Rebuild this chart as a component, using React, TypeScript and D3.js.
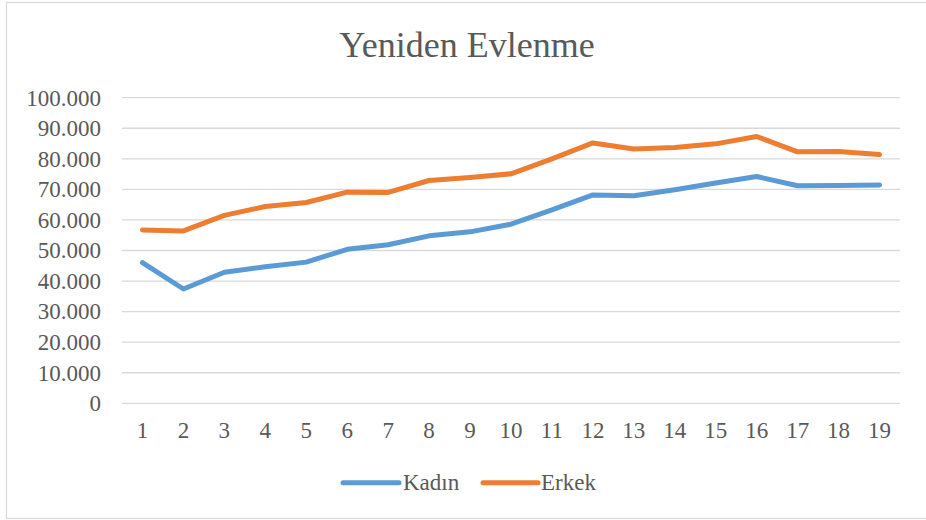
import React from 'react';
import * as d3 from 'd3';

const categories = ['1','2','3','4','5','6','7','8','9','10','11','12','13','14','15','16','17','18','19'];
const kadin = [46000, 37400, 42900, 44700, 46200, 50400, 51900, 54800, 56100, 58600, 63300, 68200, 67900, 69900, 72100, 74200, 71200, 71300, 71400];
const erkek = [56700, 56400, 61500, 64400, 65700, 69100, 69000, 72900, 73900, 75100, 80000, 85200, 83200, 83700, 84900, 87300, 82300, 82400, 81400];
const yTicks = [0, 10000, 20000, 30000, 40000, 50000, 60000, 70000, 80000, 90000, 100000];
const seriesNames = ['Kadın', 'Erkek'];
const colors = ['#5B9BD5', '#ED7D31'];

const width = 926;
const height = 520;
const font = '"Liberation Serif", "Times New Roman", serif';
const textColor = '#595959';
const gridColor = '#D9D9D9';

const App = () => {
  const x = d3.scaleBand<string>().domain(categories).range([122, 900]);
  const y = d3.scaleLinear().domain([0, 100000]).range([403.3, 97.7]);
  const fmt = d3.formatLocale({ decimal: ',', thousands: '.', grouping: [3], currency: ['', ''] }).format(',');

  const line = d3.line<number>()
    .x((_, i) => (x(categories[i]) as number) + x.bandwidth() / 2)
    .y(d => y(d));

  const series = [kadin, erkek];
  // legend positions
  const legend = [
    { x1: 343, x2: 399, tx: 403 },
    { x1: 483, x2: 538, tx: 541 },
  ];

  return (
    <svg width={width} height={height} style={{ position: 'absolute', left: 0, top: 0, background: '#fff' }}>
      <rect x={6.5} y={2.5} width={940} height={516} fill="#fff" stroke={gridColor} strokeWidth={1.2} />
      <text x={467} y={57} textAnchor="middle" fontFamily={font} fontSize={36} fill={textColor}>Yeniden Evlenme</text>
      {yTicks.map(t => (
        <g key={t}>
          <line x1={122} x2={900} y1={y(t)} y2={y(t)} stroke={gridColor} strokeWidth={1.3} />
          <text x={101} y={y(t)} dy="0.34em" textAnchor="end" fontFamily={font} fontSize={23} fill={textColor}>{fmt(t)}</text>
        </g>
      ))}
      {categories.map(c => (
        <text key={c} x={(x(c) as number) + x.bandwidth() / 2} y={438} textAnchor="middle" fontFamily={font} fontSize={23} fill={textColor}>{c}</text>
      ))}
      {series.map((s, i) => (
        <path key={i} d={line(s) || ''} fill="none" stroke={colors[i]} strokeWidth={5} strokeLinecap="round" strokeLinejoin="round" />
      ))}
      {seriesNames.map((n, i) => (
        <g key={n}>
          <line x1={legend[i].x1} x2={legend[i].x2} y1={482.7} y2={482.7} stroke={colors[i]} strokeWidth={5} strokeLinecap="round" />
          <text x={legend[i].tx} y={490} fontFamily={font} fontSize={23} fill={textColor}>{n}</text>
        </g>
      ))}
    </svg>
  );
};

export default App;
